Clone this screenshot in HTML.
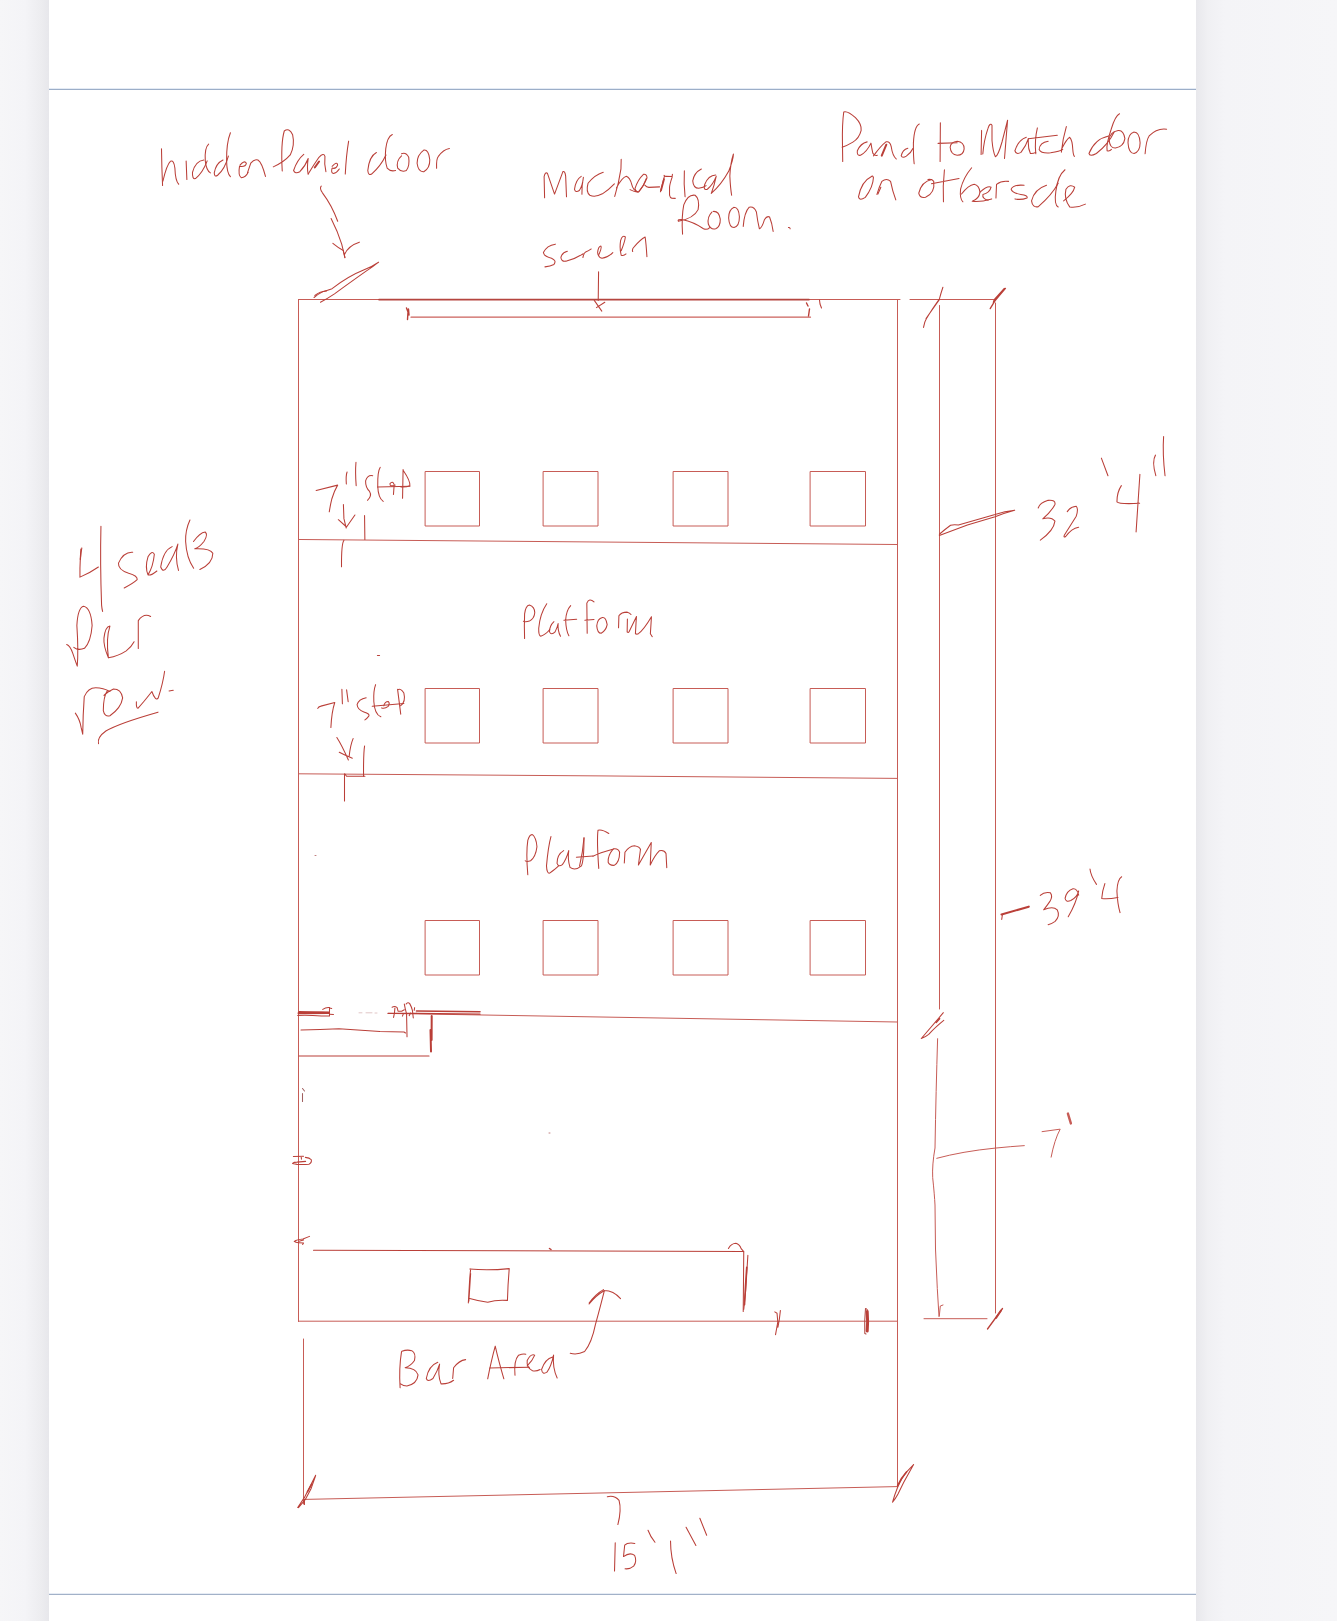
<!DOCTYPE html>
<html><head><meta charset="utf-8"><title>Sketch</title>
<style>
html,body{margin:0;padding:0;width:1337px;height:1621px;overflow:hidden;font-family:"Liberation Sans",sans-serif;}
body{background:linear-gradient(to right,#f6f6f8 0px,#f4f4f7 25px,#ececef 42px,#e7e7eb 49px,#ffffff 49px,#ffffff 1196px,#e8e8ec 1196px,#f0f0f3 1208px,#f4f4f7 1225px,#f6f6f8 1337px);position:relative;}
#pg{position:absolute;left:49px;top:0;width:1147px;height:1621px;background:#fff;}
.hl{position:absolute;left:49px;width:1147px;height:1px;background:#a5b2c8;}
svg{position:absolute;left:0;top:0;}
svg path,svg line,svg rect,svg polyline{vector-effect:non-scaling-stroke;}
</style></head>
<body>
<div id="pg"></div>
<div class="hl" style="top:88px;background:#e4ebf5"></div>
<div class="hl" style="top:89px;background:#9caec8"></div>
<div class="hl" style="top:1593px;background:#e6ecf5"></div>
<div class="hl" style="top:1594px;background:#a2b1c8"></div>
<svg width="1337" height="1621" viewBox="0 0 1337 1621" fill="none" stroke="#c75c56" stroke-width="1" stroke-linecap="round" stroke-linejoin="round">
<!-- STRUCTURE -->
<g id="struct">
<path d="M298.5 299.5 H900 M910 299.5 H993.5"/>
<path d="M298.5 299.5 V1321.5"/>
<path d="M303.5 1339 V1504"/>
<path d="M897.5 299.5 V1487"/>
<path d="M939.5 305.5 V1009"/>
<path d="M937.6 1038.7 Q936 1090 935 1148 Q932 1165 932.7 1177.7 Q934.5 1195 935 1205 L935.5 1249 L937.3 1288.6 L939 1316.5 M939.3 1316 L940.3 1306 L943 1305"/>
<path d="M995.5 303 V1313"/>
<path d="M299 539.5 L897 544.5"/>
<path d="M299 773.8 L600 775.9 L897 778.4"/>
<path d="M388 1013.4 L897 1022"/>
<path d="M298.5 1321.2 H897.5"/>
<path d="M924 1318.7 H987"/>
<path d="M304.7 1499.4 L897 1486.6"/>
</g>
<!-- 7' label: region [880,1000,1100,1200] -->
<g transform="translate(880 1000) scale(0.16455)">
<path d="M345 962 Q500 920 700 900 Q800 890 877 885"/>
<path d="M985 800 L1095 785 Q1060 850 1040 955"/>
<path d="M1142 690 L1160 750" stroke-width="2.4"/>
</g>
<!-- SEATS -->
<g id="seats">
<rect x="425.5" y="471.5" width="54" height="54.5"/>
<rect x="543.5" y="471.5" width="54.5" height="54.5"/>
<rect x="673.5" y="471.5" width="54.5" height="54.5"/>
<rect x="810.5" y="471.5" width="55" height="54.5"/>
<rect x="425.5" y="688.5" width="54" height="54.5"/>
<rect x="543.5" y="688.5" width="54.5" height="54.5"/>
<rect x="673.5" y="688.5" width="54.5" height="54.5"/>
<rect x="810.5" y="688.5" width="55" height="54.5"/>
<rect x="425.5" y="920.5" width="54" height="54.5"/>
<rect x="543.5" y="920.5" width="54.5" height="54.5"/>
<rect x="673.5" y="920.5" width="54.5" height="54.5"/>
<rect x="810.5" y="920.5" width="55" height="54.5"/>
</g>
<!-- HANDWRITING -->
<g id="hw" stroke="#ba3f38" stroke-width="1.05">
<!-- 7'' step row1: region [290,460,430,580] -->
<g transform="translate(290 460) scale(0.10471)">
<path d="M250 292 L455 240 Q420 300 400 370 Q385 430 375 495"/>
<path d="M545 115 Q532 150 538 230"/>
<path d="M630 22 Q622 120 632 245"/>
<path d="M790 150 Q740 140 722 200 Q720 260 760 300 Q785 340 740 385"/>
<path d="M862 70 Q835 110 838 250 Q842 360 890 395"/>
<path d="M835 258 L1145 250"/>
<path d="M988 330 L995 235 Q980 195 955 225 Q950 260 1005 240"/>
<path d="M1080 90 L1075 365 M1082 100 Q1150 200 1145 245 Q1110 262 1060 258"/>
<path d="M510 425 L515 560 L537 650 M462 570 L540 640 L620 525"/>
<path d="M712 530 L715 760"/>
<path d="M515 768 Q490 800 492 1020"/>
</g>
<!-- hidden Panel door part1: region [150,125,310,195] -->
<g transform="translate(150 125) scale(0.11967)">
<path d="M96 198 Q98 350 105 505"/>
<path d="M108 470 Q140 330 172 302 Q200 290 208 360 Q212 470 240 495"/>
<path d="M302 300 L308 455"/>
<path d="M450 292 Q380 300 355 395 Q352 455 380 448 Q440 400 478 300"/>
<path d="M490 160 Q455 190 462 300 Q470 380 505 400"/>
<path d="M610 292 Q550 320 537 400 Q538 440 565 420 Q625 370 655 260"/>
<path d="M672 65 Q638 150 640 300 Q642 400 672 432"/>
<path d="M752 335 Q790 290 805 320 Q800 352 748 345 Q735 420 762 440 Q800 440 820 395"/>
<path d="M815 398 L842 318 Q872 282 902 292 Q935 312 965 430"/>
<path d="M1105 385 Q1092 150 1122 50 Q1162 18 1192 82 Q1212 170 1172 250 Q1120 310 1030 350"/>
</g>
<!-- hidden Panel door part2: region [290,125,450,195] -->
<g transform="translate(290 125) scale(0.11967)">
<path d="M115 245 Q60 290 30 380 Q42 412 82 390 Q130 340 152 280 Q140 360 152 410"/>
<path d="M152 410 Q200 330 242 270 Q282 228 292 262 Q285 320 300 390"/>
<path d="M207 355 L243 305" stroke-width="2"/>
<path d="M352 345 Q395 300 398 335 Q385 370 352 360 Q340 400 362 405 Q392 400 412 368"/>
<path d="M490 135 Q470 250 462 410"/>
<path d="M722 230 Q662 262 650 380 Q655 425 682 410 Q760 340 802 250"/>
<path d="M855 80 Q812 100 800 200 Q790 300 812 360 Q840 392 882 380"/>
<path d="M932 258 Q885 300 900 360 Q930 398 972 380 Q1002 340 992 270 Q970 225 932 240"/>
<path d="M1118 210 Q1062 250 1062 320 Q1072 395 1118 390 Q1170 360 1168 290 Q1160 205 1118 210"/>
<path d="M1225 362 Q1222 280 1240 262 Q1280 205 1332 196"/>
</g>
<!-- arrow + slash: region [300,180,400,310] -->
<g transform="translate(300 180) scale(0.080192)">
<path d="M265 75 Q240 100 280 160 Q400 320 470 515"/>
<path d="M388 480 Q470 640 520 800 Q545 900 560 970"/>
<path d="M410 790 Q470 840 540 880 L560 965 M558 925 Q600 820 740 775"/>
<path d="M175 1465 Q230 1420 280 1395 Q350 1370 400 1355 Q600 1200 800 1120 Q900 1080 980 1025 Q900 1090 820 1140 Q650 1260 430 1420 Q340 1480 255 1525"/>
<path d="M185 1440 Q250 1390 330 1385"/>
</g>
<!-- Machan: region [530,145,690,215] -->
<g transform="translate(530 145) scale(0.11967)">
<path d="M122 440 L118 265 Q125 225 145 235 L205 410 L275 222 Q292 215 298 260 L305 432"/>
<path d="M428 262 Q382 290 372 370 Q380 402 412 380 Q440 340 446 270 Q432 340 434 412"/>
<path d="M612 228 Q540 250 485 320 Q465 390 500 420 Q545 440 605 408 Q655 378 705 325"/>
<path d="M762 120 L760 200 Q742 320 708 430 M722 360 Q770 270 805 262 Q835 272 850 330 Q862 382 900 390"/>
<path d="M836 373 Q870 392 903 395 Q948 350 978 275 Q975 240 948 245 Q900 290 877 365 Q885 395 903 395"/>
<path d="M910 390 Q950 345 972 280"/>
<path d="M959 335 Q975 352 993 354 L1083 350"/>
<path d="M1090 391 L1124 257 M1120 253 Q1130 262 1136 262 L1188 264 L1190 245 M1188 268 Q1166 330 1166 358 L1166 418 Q1172 442 1184 444 L1214 446"/>
<path d="M1095 378 L1120 285" stroke-width="1.8"/>
</g>
<!-- ical Room.: region [670,145,830,240] -->
<g transform="translate(670 145) scale(0.11967)">
<path d="M120 215 Q114 330 126 432"/>
<path d="M262 200 Q200 232 190 300 Q195 362 240 362 Q282 356 302 340"/>
<path d="M382 250 Q320 252 290 330 Q275 382 312 370 Q360 330 386 262 Q372 330 345 405 Q430 330 490 220 Q530 120 530 75 Q505 150 500 260 Q505 360 515 420"/>
<path d="M105 745 Q95 600 115 500 Q150 410 210 420 Q250 450 235 540 Q200 612 70 638 Q60 620 100 622 Q200 642 280 700 Q310 712 332 690"/>
<path d="M350 560 Q310 600 320 660 Q340 712 382 700 Q422 680 420 620 Q410 550 360 555"/>
<path d="M535 520 Q490 540 490 610 Q495 690 535 690 Q580 680 580 600 Q575 520 535 520"/>
<path d="M612 680 Q622 560 662 520 Q702 510 722 560 Q732 640 747 700 Q770 690 790 622 Q810 590 832 602 Q852 650 862 722"/>
<path d="M990 690 Q1000 685 1004 700"/>
</g>
<!-- screen: region [530,225,690,325] -->
<g transform="translate(530 225) scale(0.11967)">
<path d="M212 160 Q140 170 112 230 Q115 262 180 277 Q225 297 200 330 Q170 345 125 350"/>
<path d="M312 220 Q270 230 258 270 Q260 307 300 302 Q380 282 445 240"/>
<path d="M442 272 Q450 232 465 226 Q490 216 512 200"/>
<path d="M577 245 Q602 190 592 175 Q570 180 565 230 Q570 272 602 277 Q652 272 692 230"/>
<path d="M762 215 Q792 140 797 100 Q772 80 757 130 Q747 200 762 252 Q782 262 802 242"/>
<path d="M858 222 Q850 200 872 180 Q922 122 962 100 Q970 150 977 265"/>
<path d="M573 390 L570 630 M537 630 L600 720 M555 690 L625 645"/>
</g>
<!-- screen line -->
<path d="M379 299.6 H809" stroke-width="1.7" stroke="#b5453f"/>
<path d="M411 317.2 H810.5" stroke-width="1.2" stroke="#cc625c"/>
<path d="M406.5 308 L408 312 L407.5 319.5 M408.5 309 L409 315" stroke-width="1.4"/>
<path d="M806.5 303 L808 306 M809.5 309 L808.5 316" stroke-width="1.4"/>
<path d="M819.5 300 L820 304 L821.5 308"/>
<!-- Panel to M: region [830,105,1000,175] -->
<g transform="translate(830 105) scale(0.12715)">
<path d="M100 445 L98 300 Q95 150 108 55 Q140 45 200 100 Q250 150 245 200 Q230 262 180 292 Q130 322 95 332"/>
<path d="M292 290 Q240 302 215 360 Q210 402 240 395 Q290 370 322 300 Q330 350 337 380 Q350 402 372 395"/>
<path d="M342 400 Q400 320 440 290 Q472 280 482 330 Q492 400 522 425"/>
<path d="M407 398 L443 312" stroke-width="2"/>
<path d="M612 340 Q570 352 560 400 Q570 422 600 402 Q640 372 652 342"/>
<path d="M702 150 Q662 170 656 300 Q655 400 662 462"/>
<path d="M868 140 L866 445 M850 302 L1000 297"/>
<path d="M945 332 Q950 290 1000 285 Q1055 290 1055 345 Q1050 395 1000 395 Q950 390 945 332"/>
</g>
<!-- atch door: region [990,105,1170,175] -->
<g transform="translate(990 105) scale(0.13463)">
<path d="M270 240 Q210 260 185 340 Q195 372 230 352 Q270 300 285 250 Q280 320 300 360 Q320 362 340 352"/>
<path d="M352 170 Q330 260 340 362 M285 250 L500 225"/>
<path d="M432 270 Q370 280 365 330 Q380 362 450 355 Q520 345 540 330"/>
<path d="M567 160 Q540 250 530 350 M530 330 Q570 252 592 240 Q612 260 615 330 Q618 370 627 382"/>
<path d="M882 230 Q780 250 735 360 Q740 387 790 360 Q880 290 922 200"/>
<path d="M962 65 Q930 80 900 180 Q860 300 870 340 Q890 345 902 330"/>
<path d="M952 190 Q890 200 885 260 Q890 322 932 320 Q992 310 1002 250 Q992 185 952 190"/>
<path d="M1070 200 Q1025 215 1025 280 Q1030 360 1070 360 Q1115 345 1115 280 Q1110 200 1070 200"/>
<path d="M1152 362 Q1160 260 1182 230 Q1240 170 1312 180"/>
</g>
<!-- on otherside: region [840,160,1100,220] -->
<g transform="translate(840 160) scale(0.19446)">
<path d="M162 85 Q110 110 95 190 Q100 212 130 192 Q170 140 172 90 Q166 78 162 85"/>
<path d="M190 177 Q200 140 215 110 Q240 90 260 110 Q270 160 287 205"/>
<path d="M195 175 L210 140"/>
<path d="M472 100 Q420 110 405 170 Q410 197 440 192 Q490 170 482 110 Q472 95 452 100"/>
<path d="M537 50 Q528 130 532 215 M470 122 L612 95"/>
<path d="M677 40 Q635 90 620 150 Q615 200 632 215 M625 175 Q660 130 690 125 Q715 130 720 165 Q715 200 680 212 Q720 217 780 200"/>
<path d="M720 165 Q760 130 777 140 Q770 170 735 177 Q730 200 762 207"/>
<path d="M802 195 L805 125 Q830 105 867 110"/>
<path d="M947 130 Q890 125 880 150 Q885 170 930 177 Q967 182 962 195 Q930 207 900 200"/>
<path d="M1062 130 Q1000 150 985 210 Q990 247 1020 240 Q1090 180 1122 120"/>
<path d="M1157 50 Q1120 80 1110 160 Q1100 230 1122 242"/>
<path d="M1150 210 Q1200 172 1207 140 Q1182 120 1162 150 Q1150 200 1182 242 Q1222 247 1262 227"/>
</g>
<!-- 32'4'': region [1020,430,1180,550] -->
<g transform="translate(1020 430) scale(0.11967)">
<path d="M152 652 Q165 610 235 588 Q300 582 292 622 Q262 682 190 742 Q262 722 292 762 Q282 842 170 920"/>
<path d="M395 682 Q420 642 470 637 Q490 660 470 720 Q420 800 370 880 Q362 902 382 890 Q430 822 490 812"/>
<path d="M680 235 L735 382"/>
<path d="M847 465 Q810 520 810 600 Q830 622 1000 612 M1002 370 L970 852"/>
<path d="M1132 210 Q1100 262 1135 382 M1200 55 Q1190 200 1212 382"/>
</g>
<!-- leader 32'4: region [930,495,1030,545] -->
<g transform="translate(930 495) scale(0.074794)">
<path d="M125 542 L500 400 L870 292 Q1000 240 1132 205 Q1000 215 870 262 Q600 340 380 402 Q320 390 275 405 Q200 460 125 525"/>
</g>
<!-- top slashes: region [900,270,1020,340] -->
<g transform="translate(900 270) scale(0.089753)">
<path d="M262 640 Q272 575 295 540 Q360 430 440 320 Q455 260 478 192 M290 540 Q360 440 438 330"/>
<path d="M1005 430 Q1040 370 1060 340 L1175 205 L1160 208 L1050 330 L1040 362" stroke-width="1.3"/>
</g>
<!-- 4 seats: region [60,525,230,615] -->
<g transform="translate(60 525) scale(0.12715)">
<path d="M172 180 Q155 250 157 410 Q230 380 302 330"/>
<path d="M165 190 L160 270" stroke-width="1.3"/>
<path d="M322 10 Q315 300 327 630 Q330 660 335 680"/>
<path d="M572 215 Q500 210 460 300 Q455 352 540 380 Q612 400 607 430 Q572 462 505 495"/>
<path d="M692 392 Q732 330 742 230 Q722 195 692 250 Q667 330 692 392 Q712 402 762 362"/>
<path d="M882 170 Q812 200 792 330 Q812 382 842 330 Q902 230 927 150 Q902 250 932 357"/>
<path d="M1022 -39 Q985 40 988 130 Q995 260 1051 340"/>
<path d="M1050 130 Q1100 60 1142 55 Q1167 75 1132 130 Q1092 180 1060 187 Q1182 182 1202 222 Q1202 302 1100 350"/>
</g>
<!-- per row: region [55,600,225,750] -->
<g transform="translate(55 600) scale(0.12715)">
<path d="M92 350 Q120 360 140 420 Q160 480 175 520 Q185 400 172 200 Q180 60 225 50 Q282 62 292 200 Q282 330 232 380 Q182 400 148 372"/>
<path d="M420 455 Q380 360 385 300 Q395 210 432 205 Q400 300 420 455 Q500 440 560 400 Q600 370 622 328"/>
<path d="M655 382 L655 162 Q700 100 752 130"/>
<path d="M160 890 Q195 940 205 1000 L218 1055 Q220 900 230 760 Q260 690 320 690 Q380 690 432 720"/>
<path d="M412 712 Q380 760 380 870 Q390 922 432 910 Q520 850 532 770 Q520 700 460 700 Q410 722 385 750"/>
<path d="M640 800 Q638 852 652 852 Q700 800 762 720 Q790 800 812 770 Q850 650 862 560"/>
<path d="M897 715 L930 710"/>
<path d="M342 1130 Q330 1080 400 1030 Q500 970 810 882"/>
</g>
<!-- 7'' step row2: region [300,670,440,810] -->
<g transform="translate(300 670) scale(0.10471)">
<path d="M170 367 Q175 350 200 345 L332 310 Q302 400 295 550"/>
<path d="M400 185 L405 322 M445 190 L460 302"/>
<path d="M632 265 Q560 280 545 330 Q550 382 610 400 Q672 420 657 440 Q640 462 620 477"/>
<path d="M722 140 Q700 200 705 300 Q712 422 772 447"/>
<path d="M690 347 L992 320"/>
<path d="M800 342 Q810 300 842 300 Q862 320 842 347 Q810 372 780 362"/>
<path d="M932 185 L962 422 M932 190 Q962 170 992 220 Q1012 300 962 340"/>
<path d="M352 645 Q400 720 462 860 M375 785 Q420 810 500 842 M470 822 Q480 720 507 655"/>
<path d="M617 725 Q605 800 607 1015"/>
<path d="M425 990 L425 1250 M430 995 L445 1015 L620 1015"/>
</g>
<!-- Platform 1: region [510,590,670,650] -->
<g transform="translate(510 590) scale(0.11967)">
<path d="M122 405 Q118 300 122 200 Q130 130 162 125 Q207 140 207 190 Q202 240 162 260 Q130 270 112 262"/>
<path d="M307 115 Q250 200 240 320 Q238 382 257 387 Q300 372 332 330"/>
<path d="M367 265 Q330 300 330 350 Q345 382 377 350 Q397 310 402 280 Q397 340 422 387"/>
<path d="M507 130 Q470 170 465 250 Q468 340 492 382 M450 252 L557 245"/>
<path d="M702 100 Q662 62 642 110 L645 362 M625 252 L702 247"/>
<path d="M772 230 Q730 240 725 300 Q730 362 762 362 Q802 340 812 290 Q802 225 772 230"/>
<path d="M907 315 L910 215 Q930 185 980 185 Q1000 190 1011 205"/>
<path d="M981 243 L979 352 Q990 357 995 349 L1057 221 L1054 259 L1048 365 Q1060 372 1073 365 Q1117 334 1182 224 L1173 365 L1189 390"/>
</g>
<!-- Platform 2: region [510,815,680,885] -->
<g transform="translate(510 815) scale(0.12715)">
<path d="M140 470 Q125 300 140 200 Q155 150 177 155 Q207 180 212 250 Q202 330 162 360 Q130 372 120 360"/>
<path d="M322 170 Q300 250 287 400 Q290 462 312 457 Q360 422 382 400"/>
<path d="M422 280 Q370 310 370 380 Q380 412 412 390 Q442 350 462 280 Q452 350 472 412 Q512 442 562 400 Q582 350 582 180"/>
<path d="M522 332 L652 322 M582 180 Q572 300 547 402"/>
<path d="M777 145 Q722 110 692 120 Q682 200 698 420 M652 325 Q700 300 815 268"/>
<path d="M815 266 Q852 261 862 293 Q862 372 820 396 Q783 399 772 372 Q769 319 809 271"/>
<path d="M899 377 L904 293 Q936 245 979 242 Q1021 250 1026 271"/>
<path d="M1026 271 L1010 393 L1111 216 L1103 393 Q1137 319 1174 282 Q1211 271 1227 303 L1233 414"/>
</g>
<!-- -39'4: region [990,870,1130,930] -->
<g transform="translate(990 870) scale(0.10471)">
<path d="M110 425 L370 350" stroke-width="2.1"/>
<path d="M118 430 L112 472"/>
<path d="M480 242 Q520 205 577 218 Q602 250 572 300 Q542 345 512 380 Q602 340 642 380 Q672 440 622 490 Q592 512 555 522"/>
<path d="M847 240 Q832 175 792 180 Q732 200 717 270 Q722 312 772 292 Q832 262 847 200 Q822 320 747 447"/>
<path d="M955 -10 Q960 50 1017 137"/>
<path d="M1097 130 Q1072 200 1067 272 Q1122 282 1222 262 M1257 65 Q1217 90 1212 200 Q1217 320 1242 407"/>
</g>
<!-- slash at 1012 on dim line: region [910,1000,960,1045] -->
<g transform="translate(910 1000) scale(0.037397)">
<path d="M302 1030 L892 340 M302 1030 Q400 1000 500 920 Q650 750 902 545"/>
<path d="M700 600 L790 500" stroke-width="1.6"/>
</g>
<!-- scribble left 1012: region [290,995,350,1025] -->
<g transform="translate(290 995) scale(0.044876)">
<path d="M195 405 L860 395" stroke-width="2.4"/>
<path d="M170 455 Q400 440 700 470 L880 470 L880 280 Q800 270 730 320 M200 370 L700 380 L880 390"/>
<path d="M880 290 L930 300 M880 430 L970 435"/>
</g>
<!-- scribble mid 1012: region [380,995,440,1040] -->
<g transform="translate(380 995) scale(0.044876)">
<path d="M180 410 L820 410"/>
<path d="M270 272 Q330 240 382 282 L402 362 L482 362 L542 330 M332 292 L322 402 L302 500"/>
<path d="M542 202 L562 302 L592 420 L602 930"/>
<path d="M582 202 Q622 150 662 192 Q702 262 722 342 L742 512"/>
<path d="M772 282 L762 342 M500 470 L520 420 M650 460 L680 400"/>
<path d="M1152 470 L1150 1003" stroke-width="2"/>
</g>
<path d="M430.5 1030 L431 1051.5" stroke-width="2"/>
<path d="M416.5 1011 L480 1011.8" stroke-width="1.6"/>
<path d="M416.5 1013.4 L480 1014.2" stroke-width="1.3"/>
<path d="M299 1056 H429" stroke-width="1.1"/>
<path d="M301 1030 Q320 1029.6 339 1028.8 Q365 1030.5 380 1031.4 Q395 1031.8 404 1032 L405.5 1033"/>
<!-- D mark: region [285,1140,325,1175] -->
<g transform="translate(285 1140) scale(0.029918)">
<path d="M280 550 L620 545 M540 550 L550 640"/>
<path d="M680 580 Q820 590 880 660 Q900 760 800 810 Q600 830 400 815 Q260 800 250 780 Q300 740 400 740 L690 715"/>
</g>
<!-- scribble mark 1240: region [285,1225,325,1260] -->
<g transform="translate(285 1225) scale(0.029918)">
<path d="M310 550 Q400 490 600 470 L820 380 M310 550 Q350 590 450 590 L620 600 L590 650 M470 540 L620 500"/>
</g>
<path d="M302.5 1093.5 V1101.5 M302.5 1088.5 L304.5 1091" stroke="#a06060"/>
<!-- Bar Area: region [380,1260,620,1400] -->
<g transform="translate(380 1260) scale(0.1795)">
<path d="M500 50 Q600 60 720 48 Q712 140 710 225 Q650 220 600 235 Q550 230 500 215 M492 240 L500 100 L505 50 M505 75 L495 230"/>
<path d="M1060 520 Q1100 530 1140 510 Q1180 460 1200 360 Q1230 250 1250 170 M1165 245 Q1200 200 1250 170 Q1300 170 1340 215 M1165 240 Q1200 190 1245 165"/>
<path d="M112 712 Q105 600 120 510 M122 508 Q150 498 177 505 Q202 520 192 560 Q172 590 140 600 Q200 600 212 640 Q207 690 150 702 Q130 702 115 690"/>
<path d="M322 570 Q270 590 258 660 Q265 682 295 660 Q320 620 332 580 Q320 640 340 690 Q380 692 410 670"/>
<path d="M405 660 L410 600 Q440 560 477 555"/>
<path d="M600 662 Q620 560 642 480 Q660 560 690 662 M610 602 L832 597"/>
<path d="M752 642 Q745 560 772 530 Q800 520 812 525"/>
<path d="M820 590 Q850 560 862 530 Q840 520 820 560 Q815 600 850 617 Q870 622 892 610"/>
<path d="M962 540 Q920 550 900 610 Q905 642 930 625 Q955 590 967 530 Q960 600 987 657"/>
</g>
<!-- bar end: region [700,1230,800,1340] -->
<g transform="translate(700 1230) scale(0.074794)">
<path d="M380 247 Q420 180 480 178 Q530 190 550 250 L585 290"/>
<path d="M585 290 L578 1090"/>
<path d="M640 337 Q625 600 612 800 L585 1062"/>
<path d="M625 500 Q610 700 595 1000" stroke-width="1.6"/>
<path d="M1000 1095 L1030 1112 L1040 1230 L1010 1400 M1075 1075 L1060 1200 L1042 1300"/>
</g>
<path d="M313.5 1250.2 L743.4 1251.5"/>
<path d="M549.5 1248.5 L551 1249.5" stroke-width="1.5"/>
<path d="M865.5 1308.5 Q864.3 1320 864.8 1333.5 L866 1334" stroke="#b04a44"/>
<path d="M867.2 1311.5 Q868 1322 867.2 1331" stroke-width="3"/>
<path d="M866 1308.5 L867.5 1310"/>
<!-- 15'1'': region [570,1480,730,1580] -->
<g transform="translate(570 1480) scale(0.11967)">
<path d="M312 140 Q370 125 410 170 Q432 250 400 372"/>
<path d="M378 525 L372 760"/>
<path d="M542 530 Q480 520 457 545 L447 640 Q500 600 540 630 Q562 680 532 720 Q500 747 460 742"/>
<path d="M652 420 Q670 470 710 520"/>
<path d="M840 510 Q840 650 887 782"/>
<path d="M970 395 L1052 547 M1085 320 L1142 462"/>
</g>
<!-- bottom-left slash: region [285,1460,335,1515] -->
<g transform="translate(285 1460) scale(0.037397)">
<path d="M340 1270 L520 1000 L820 410 M360 1275 L540 1060 L700 760 L815 430"/>
<path d="M520 1050 L520 1190"/>
<path d="M600 850 L720 640" stroke-width="1.6"/>
</g>
<!-- bottom-right slash: region [880,1455,925,1510] -->
<g transform="translate(880 1455) scale(0.033937)">
<path d="M370 1390 Q420 1200 520 950 Q650 650 800 480 L990 280 M370 1390 Q450 1300 530 1150 L700 800 L990 280"/>
<path d="M520 900 Q600 700 780 500" stroke-width="1.6"/>
</g>
<!-- dim bottom slash -->
<path d="M987.5 1329 L1002.5 1308.5" stroke-width="1.3"/>
<path d="M996 1318 L1001 1310.5" stroke-width="2"/>
<!-- dots -->
<path d="M377.5 655.5 L379.5 655.5" stroke-width="1.2"/>
<path d="M315 855.5 L316 855.5" stroke-width="1" stroke="#c08080"/>
<path d="M549 1133 L550 1133" stroke-width="1" stroke="#c08080"/>
<path d="M359 1012.8 H362 M366 1012.8 H372 M375 1013 H377" stroke="#e2c6c6" stroke-width="1"/>
<!-- M of Match -->
<path d="M981.6 130.4 L981.1 154.4 M982.8 154 Q984 140 987.9 128.7 Q990 122 992 125.3 L992 140.5 Q993 152 995.4 156.8 Q998 156 1002 142 L1007.6 120.2 L1006.2 137.1 L1004.5 158.5"/>
</g>
</svg>
</body></html>
